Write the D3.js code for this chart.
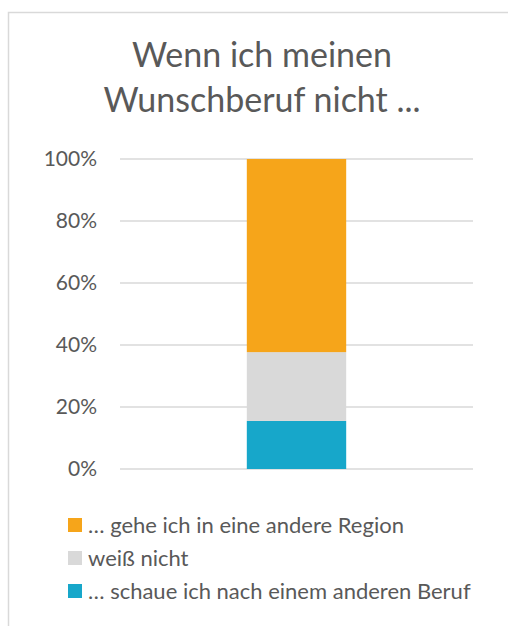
<!DOCTYPE html>
<html><head><meta charset="utf-8">
<script src="https://cdn.jsdelivr.net/npm/d3@7"></script>
<style>
html,body{margin:0;padding:0;background:#fff;}
svg{display:block;font-family:Lato,"Open Sans",sans-serif;}
</style></head>
<body><svg id="c" width="508" height="626"></svg>
<script>
const titleLines = ["Wenn ich meinen", "Wunschberuf nicht ..."];
const category = ["Antwort"];
const seriesNames = ["… schaue ich nach einem anderen Beruf", "weiß nicht", "… gehe ich in eine andere Region"];
const seriesValues = [15.5, 22.2, 62.3];
const seriesColors = ["#17A7CA", "#D9D9D9", "#F6A51A"];
const tickValues = [0, 20, 40, 60, 80, 100];
const legendOrder = [2, 1, 0];

const svg = d3.select("#c");
const textColor = "#595959";

// frame
svg.append("rect").attr("x", 8.5).attr("y", 12.5).attr("width", 520).attr("height", 640)
  .attr("fill", "#fff").attr("stroke", "#d9d9d9").attr("stroke-width", 1.5);

// title
svg.append("g").selectAll("text").data(titleLines).join("text")
  .attr("x", 262).attr("y", (d, i) => 67 + i * 45)
  .attr("text-anchor", "middle").attr("fill", textColor)
  .attr("font-size", 34).text(d => d);

const y = d3.scaleLinear().domain([0, 100]).range([469, 159]);
const x = d3.scaleBand().domain(category).range([120, 473]).paddingInner(0).paddingOuter(1.276);

// gridlines
const grid = svg.append("g");
grid.selectAll("line").data(tickValues).join("line")
  .attr("x1", 120).attr("x2", 473)
  .attr("y1", d => y(d)).attr("y2", d => y(d))
  .attr("stroke", "#d9d9d9").attr("stroke-width", 1.3);

// axis labels
const axis = d3.axisLeft(y).tickValues(tickValues).tickFormat(d => d + "%").tickSize(0).tickPadding(0);
const ag = svg.append("g").attr("transform", "translate(97,0)").call(axis);
ag.select(".domain").remove();
ag.selectAll("text").attr("fill", textColor).attr("font-size", 21).attr("font-family", "Lato,'Open Sans',sans-serif");

// stacked bars
const stackData = [Object.fromEntries(seriesNames.map((n, i) => [n, seriesValues[i]]))];
const stack = d3.stack().keys(seriesNames)(stackData);
svg.append("g").selectAll("rect").data(stack).join("rect")
  .attr("x", x(category[0])).attr("width", x.bandwidth())
  .attr("y", d => y(d[0][1])).attr("height", d => y(d[0][0]) - y(d[0][1]))
  .attr("fill", (d, i) => seriesColors[i]);

// legend
const lg = svg.append("g").selectAll("g").data(legendOrder).join("g")
  .attr("transform", (d, i) => `translate(68,${525 + i * 33})`);
lg.append("rect").attr("x", 0).attr("y", -7).attr("width", 14).attr("height", 14)
  .attr("fill", d => seriesColors[d]);
lg.append("text").attr("x", 20).attr("y", 0).attr("dy", "0.35em")
  .attr("fill", textColor).attr("font-size", 22).text(d => seriesNames[d]);
</script></body></html>
